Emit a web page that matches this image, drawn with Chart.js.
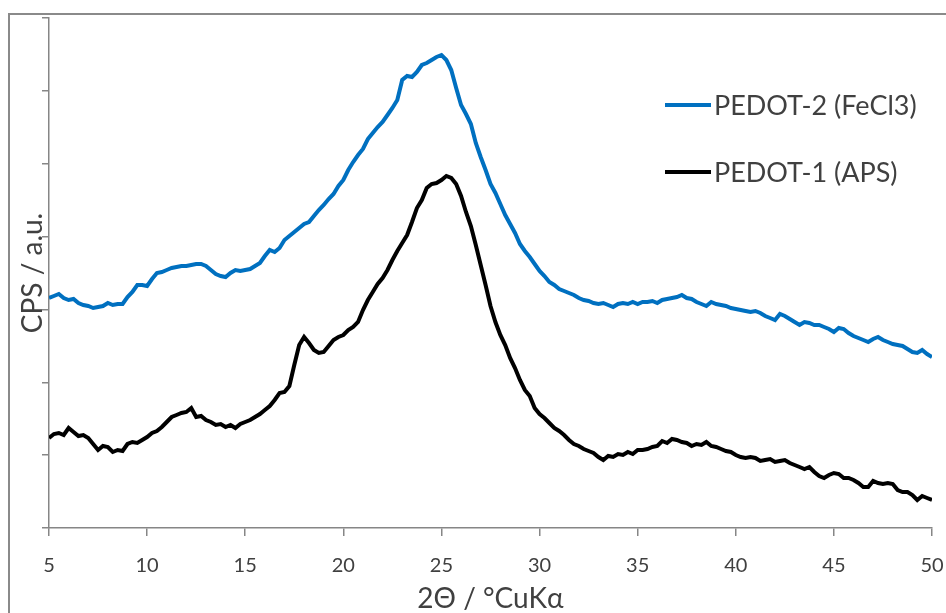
<!DOCTYPE html>
<html>
<head>
<meta charset="utf-8">
<script src="https://cdn.jsdelivr.net/npm/chart.js@4/dist/chart.umd.min.js"></script>
<style>
  html, body { margin: 0; padding: 0; background: #fff; }
  #wrap { width: 946px; height: 613px; position: relative; }
</style>
</head>
<body>
<div id="wrap"><canvas id="xrdChart"></canvas></div>
<script>
// 2-theta positions (deg)
const angles = [
  5, 5.25, 5.5, 5.75, 6, 6.25, 6.5, 6.75, 7, 7.25, 7.5, 7.75, 8, 8.25, 8.5, 8.75,
  9, 9.25, 9.5, 9.75, 10, 10.25, 10.5, 10.75, 11, 11.25, 11.5, 11.75, 12, 12.25, 12.5, 12.75,
  13, 13.25, 13.5, 13.75, 14, 14.25, 14.5, 14.75, 15, 15.25, 15.5, 15.75, 16, 16.25, 16.5, 16.75,
  17, 17.25, 17.5, 17.75, 18, 18.25, 18.5, 18.75, 19, 19.25, 19.5, 19.75, 20, 20.25, 20.5, 20.75,
  21, 21.25, 21.5, 21.75, 22, 22.25, 22.5, 22.75, 23, 23.25, 23.5, 23.75, 24, 24.25, 24.5, 24.75,
  25, 25.25, 25.5, 25.75, 26, 26.25, 26.5, 26.75, 27, 27.25, 27.5, 27.75, 28, 28.25, 28.5, 28.75,
  29, 29.25, 29.5, 29.75, 30, 30.25, 30.5, 30.75, 31, 31.25, 31.5, 31.75, 32, 32.25, 32.5, 32.75,
  33, 33.25, 33.5, 33.75, 34, 34.25, 34.5, 34.75, 35, 35.25, 35.5, 35.75, 36, 36.25, 36.5, 36.75,
  37, 37.25, 37.5, 37.75, 38, 38.25, 38.5, 38.75, 39, 39.25, 39.5, 39.75, 40, 40.25, 40.5, 40.75,
  41, 41.25, 41.5, 41.75, 42, 42.25, 42.5, 42.75, 43, 43.25, 43.5, 43.75, 44, 44.25, 44.5, 44.75,
  45, 45.25, 45.5, 45.75, 46, 46.25, 46.5, 46.75, 47, 47.25, 47.5, 47.75, 48, 48.25, 48.5, 48.75,
  49, 49.25, 49.5, 49.75, 50
];

// PEDOT-2 (FeCl3), counts in a.u.
const pedot2 = [
  230, 232, 234, 230, 228, 229, 225, 223, 222, 220, 221, 222, 225, 223, 224, 224,
  231, 236, 243, 243, 242, 249, 255, 256, 258, 260, 261, 262, 262, 263, 264, 264,
  262, 258, 254, 252, 251, 255, 258, 257, 258, 259, 262, 265, 272, 278, 276, 280,
  288, 292, 296, 300, 304, 306, 312, 318, 323, 329, 334, 342, 348, 358, 366, 373,
  379, 389, 395, 401, 406, 413, 420, 428, 448, 452, 451, 456, 463, 465, 468, 471,
  473, 468, 458, 440, 423, 414, 404, 385, 371, 358, 344, 335, 324, 313, 304, 295,
  284, 277, 271, 264, 257, 252, 246, 243, 239, 237, 235, 233, 230, 228, 227, 225,
  224, 225, 223, 221, 224, 225, 224, 226, 224, 226, 226, 227, 225, 228, 229, 230,
  231, 233, 230, 229, 226, 224, 222, 226, 224, 223, 222, 220, 219, 218, 217, 216,
  217, 215, 212, 210, 208, 214, 212, 209, 206, 203, 206, 205, 203, 203, 201, 199,
  196, 200, 199, 195, 192, 190, 188, 186, 189, 191, 188, 186, 184, 183, 182, 179,
  176, 175, 178, 174, 171
];

// PEDOT-1 (APS), counts in a.u.
const pedot1 = [
  90, 94, 95, 93, 100, 96, 92, 93, 90, 84, 78, 82, 81, 76, 78, 77,
  84, 86, 85, 88, 91, 95, 97, 101, 106, 111, 113, 115, 116, 120, 111, 112,
  108, 106, 103, 104, 101, 103, 100, 104, 106, 108, 111, 114, 118, 122, 128, 135,
  136, 142, 163, 183, 191, 185, 178, 175, 176, 182, 188, 191, 193, 198, 201, 206,
  218, 228, 236, 244, 250, 258, 268, 277, 285, 293, 306, 320, 328, 340, 344, 345,
  348, 352, 350, 344, 332, 316, 302, 283, 263, 243, 222, 206, 193, 183, 170, 160,
  148, 138, 132, 120, 114, 110, 105, 100, 97, 93, 88, 84, 82, 79, 77, 75,
  71, 68, 72, 71, 74, 73, 76, 74, 78, 78, 79, 81, 82, 87, 85, 89,
  88, 86, 85, 82, 84, 83, 86, 82, 81, 79, 77, 76, 73, 71, 70, 71,
  70, 67, 68, 69, 66, 67, 68, 65, 63, 61, 59, 61, 56, 52, 50, 53,
  55, 54, 50, 50, 48, 45, 41, 41, 47, 45, 44, 45, 44, 38, 36, 36,
  33, 28, 32, 30, 28
];

const xTicks = { min: 5, max: 50, step: 5 };
const yRange = { min: 0, max: 510, count: 8 };

const FONT = "Lato";
const TEXT = "#404040";
const AXIS = "#868686";

// outer frame + legend drawn on the canvas
const framePlugin = {
  id: "frameLegend",
  beforeDraw(chart) {
    const ctx = chart.ctx;
    ctx.save();
    ctx.strokeStyle = "#8a8a8a";
    ctx.lineWidth = 2;
    ctx.strokeRect(9, 14, 1200, 1200);
    ctx.restore();
  },
  afterDraw(chart) {
    const ctx = chart.ctx;
    const rows = [105, 172];
    ctx.save();
    chart.data.datasets.forEach((ds, i) => {
      const y = rows[i];
      ctx.strokeStyle = ds.borderColor;
      ctx.lineWidth = 4;
      ctx.beginPath();
      ctx.moveTo(665, y);
      ctx.lineTo(711, y);
      ctx.stroke();
      ctx.fillStyle = TEXT;
      ctx.font = "27px " + FONT;
      ctx.textBaseline = "middle";
      ctx.fillText(ds.label, 714, y + 1);
    });
    ctx.restore();
  },
};

new Chart(document.getElementById("xrdChart"), {
  type: "line",
  data: {
    datasets: [
      {
        label: "PEDOT-2 (FeCl3)",
        data: angles.map((a, i) => ({ x: a, y: pedot2[i] })),
        borderColor: "#0070C0",
        borderWidth: 4,
        pointRadius: 0,
        tension: 0,
      },
      {
        label: "PEDOT-1 (APS)",
        data: angles.map((a, i) => ({ x: a, y: pedot1[i] })),
        borderColor: "#000000",
        borderWidth: 4,
        pointRadius: 0,
        tension: 0,
      },
    ],
  },
  options: {
    responsive: true,
    maintainAspectRatio: false,
    animation: false,
    devicePixelRatio: 1,
    layout: { padding: { top: 18, right: 14, left: 0, bottom: 0 } },
    plugins: {
      legend: { display: false },
      tooltip: { enabled: false },
    },
    scales: {
      x: {
        type: "linear",
        min: xTicks.min,
        max: xTicks.max,
        afterFit: (s) => {
          s.height = 85;
          s.paddingLeft = 0;
          s.paddingRight = 0;
        },
        border: { color: AXIS, width: 1.5 },
        grid: { drawOnChartArea: false, tickLength: 8, color: AXIS, lineWidth: 1.5 },
        ticks: {
          stepSize: xTicks.step,
          color: TEXT,
          padding: 18,
          maxRotation: 0,
          font: { family: FONT, size: 20 },
        },
        title: {
          display: true,
          text: "2Θ / °CuKα",
          color: TEXT,
          font: { family: FONT, size: 28 },
          padding: { top: 0, bottom: -3 },
        },
      },
      y: {
        min: yRange.min,
        max: yRange.max,
        afterFit: (s) => {
          s.width = 49;
          s.paddingTop = 0;
          s.paddingBottom = 0;
        },
        border: { color: AXIS, width: 1.5 },
        grid: { drawOnChartArea: false, tickLength: 7, color: AXIS, lineWidth: 1.5 },
        ticks: { count: yRange.count, display: false },
        title: {
          display: true,
          text: "CPS / a.u.",
          color: TEXT,
          font: { family: FONT, size: 28 },
          padding: { top: 16, bottom: 0 },
        },
      },
    },
  },
  plugins: [framePlugin],
});
</script>
</body>
</html>
